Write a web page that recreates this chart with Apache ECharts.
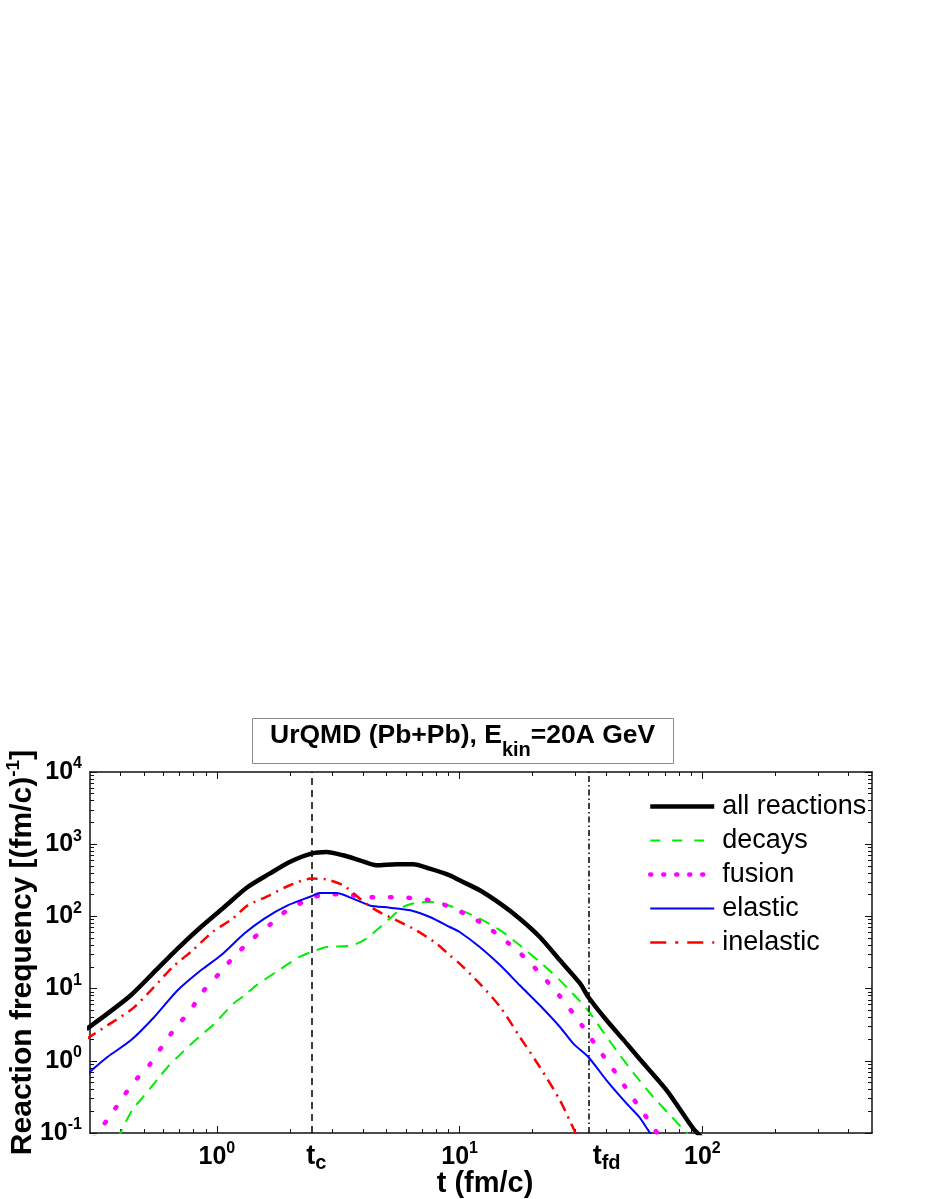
<!DOCTYPE html>
<html>
<head>
<meta charset="utf-8">
<script src="https://cdn.jsdelivr.net/npm/echarts@6.0.0/dist/echarts.min.js"></script>
<style>
html,body{margin:0;padding:0;background:#fff;}
#chart{width:926px;height:1199px;}
</style>
</head>
<body>
<div id="chart"></div>
<script>
// ---------- data ----------
const seriesNames = ['all reactions', 'decays', 'fusion', 'elastic', 'inelastic'];

const allT = [0.29, 0.354, 0.442, 0.552, 0.689, 0.859, 1.073, 1.339, 1.649, 1.994, 2.45, 2.83, 3.31, 3.88, 4.54, 5.50, 6.43, 7.53, 9.11, 10, 12.1, 14.7, 17.7, 21.4, 25.9, 31.4, 33.9, 40.3, 48.8, 55.3, 71.3, 91.8, 100];
const allV = [2.75, 4.5, 8.1, 17, 35.8, 71.3, 135, 255, 391, 567, 741, 780, 702, 598, 510, 527, 527, 459, 371, 316, 230, 150, 93, 51.9, 24.7, 11.7, 7.65, 3.64, 1.73, 1.05, 0.39, 0.115, 0.085];

const decT = [0.39, 0.402, 0.449, 0.486, 0.534, 0.579, 0.636, 0.693, 0.781, 0.873, 0.976, 1.18, 1.30, 1.454, 1.78, 2.19, 2.45, 2.83, 3.31, 3.64, 4.13, 4.54, 5.15, 5.85, 6.53, 7.54, 8.55, 10, 12.1, 14.7, 17.7, 21.4, 25.9, 29.4, 33.4, 39.1, 45.8, 53.6, 62.8, 74.8, 86.2, 90];
const decV = [0.08, 0.103, 0.211, 0.290, 0.426, 0.597, 0.867, 1.15, 1.7, 2.35, 3.27, 6.36, 8.07, 11.1, 17.6, 27.4, 32.1, 37.7, 38.5, 39.8, 49.3, 64.1, 93.2, 135, 153, 158, 150, 124, 93.2, 64.1, 39.8, 23.4, 13.0, 8.34, 5.25, 2.50, 1.19, 0.597, 0.315, 0.167, 0.1, 0.085];

const fusT = [0.31, 0.354, 0.398, 0.449, 0.526, 0.592, 0.671, 0.777, 0.873, 1.016, 1.18, 1.39, 1.66, 1.92, 2.34, 2.78, 3.31, 3.94, 4.69, 5.58, 6.64, 7.90, 9.40, 11.2, 13.3, 15.85, 18.75, 22.1, 25.7, 29.4, 33.4, 37.6, 42.7, 48.0, 54.1, 60.9, 68];
const fusV = [0.085, 0.153, 0.269, 0.483, 0.867, 1.55, 2.79, 5.0, 8.97, 15.8, 28.0, 47.7, 77.8, 118, 167, 202, 202, 190, 182, 186, 176, 163, 128, 98, 67.8, 42.8, 26.0, 14.5, 8.07, 4.5, 2.5, 1.40, 0.78, 0.44, 0.245, 0.14, 0.08];

const elaT = [0.29, 0.354, 0.442, 0.552, 0.689, 0.859, 1.039, 1.297, 1.568, 1.957, 2.45, 2.65, 3.11, 3.64, 4.26, 5.15, 6.43, 7.54, 9.11, 10, 12.1, 14.7, 17.7, 21.4, 25.9, 29.4, 33.9, 40.3, 48.8, 55.3, 60.9, 65];
const elaV = [0.64, 1.13, 1.92, 4.04, 9.47, 17.9, 28.9, 57.8, 93.3, 142, 190, 211, 211, 176, 142, 132, 119, 98, 71.3, 60.8, 37.7, 21.0, 11.1, 5.87, 2.94, 1.73, 1.13, 0.537, 0.255, 0.162, 0.1, 0.08];

const inelT = [0.29, 0.354, 0.449, 0.543, 0.657, 0.794, 0.960, 1.161, 1.339, 1.649, 1.994, 2.45, 2.83, 3.31, 3.88, 4.54, 5.50, 6.64, 8.03, 9.11, 10, 12.1, 14.7, 17.7, 21.4, 25.9, 29.9, 31];
const inelV = [2.0, 3.1, 5.28, 10.0, 19.9, 33.9, 60.8, 93.3, 142, 196, 270, 334, 324, 270, 176, 121, 88, 64, 42, 28.9, 22.2, 11.7, 5.56, 2.14, 0.82, 0.284, 0.103, 0.08];

const tC = 2.45;    // t_c marker
const tFD = 34;     // t_fd marker

const xMajorTicks = [1, 10, 100];
const xMinorTicks = [0.4, 0.5, 0.6, 0.7, 0.8, 0.9, 2, 3, 4, 5, 6, 7, 8, 9, 20, 30, 40, 50, 60, 70, 80, 90, 200, 300, 400];
const xLabelValues = [1, tC, 10, tFD, 100];
const yMajorTicks = [0.1, 1, 10, 100, 1000, 10000];
const yMinorTicks = [0.2, 0.3, 0.4, 0.5, 0.6, 0.7, 0.8, 0.9, 2, 3, 4, 5, 6, 7, 8, 9, 20, 30, 40, 50, 60, 70, 80, 90, 200, 300, 400, 500, 600, 700, 800, 900, 2000, 3000, 4000, 5000, 6000, 7000, 8000, 9000];

// ---------- chart ----------
const FONT = '"Liberation Sans", Arial, Helvetica, sans-serif';
const pairs = (t, v) => t.map((x, i) => [x, v[i]]);

const richTick = {
  b: {fontFamily: FONT, fontSize: 25, fontWeight: 'bold', color: '#000', lineHeight: 32},
  s: {fontFamily: FONT, fontSize: 16, fontWeight: 'bold', color: '#000', lineHeight: 14, verticalAlign: 'top'},
  tc: {fontFamily: FONT, fontSize: 27, fontWeight: 'bold', color: '#000', lineHeight: 32, padding: [0, 0, 0, 10]},
  tf: {fontFamily: FONT, fontSize: 27, fontWeight: 'bold', color: '#000', lineHeight: 32, padding: [0, 0, 0, 36]},
  c: {fontFamily: FONT, fontSize: 20, fontWeight: 'bold', color: '#000', lineHeight: 25, verticalAlign: 'bottom'}
};

function powLabel(v) {
  const e = Math.round(Math.log10(v));
  return '{b|10}{s|' + e + '}';
}

const XMIN = 0.3, XMAX = 500, YMIN = 0.1, YMAX = 10000;
const axisLineStyle = {color: '#111', width: 1.5};

function xAx(position, ticks, len, showLine, label) {
  return {
    type: 'log', logBase: 10, min: XMIN, max: XMAX, position: position,
    axisLine: {show: showLine, onZero: false, lineStyle: axisLineStyle},
    axisTick: {show: true, inside: true, length: len, customValues: ticks, lineStyle: {color: '#111', width: 1}},
    minorTick: {show: false},
    splitLine: {show: false},
    axisLabel: label || {show: false}
  };
}
function yAx(position, ticks, len, showLine, label) {
  return {
    type: 'log', logBase: 10, min: YMIN, max: YMAX, position: position,
    axisLine: {show: showLine, onZero: false, lineStyle: axisLineStyle},
    axisTick: {show: true, inside: true, length: len, customValues: ticks, lineStyle: {color: '#111', width: 1}},
    minorTick: {show: false},
    splitLine: {show: false},
    axisLabel: label || {show: false}
  };
}

const xMain = xAx('bottom', xMajorTicks, 7, true, {
  show: true, margin: 8, customValues: xLabelValues,
  formatter: function (v) {
    if (Math.abs(v - tC) < 1e-6) return '{tc|t}{c|c}';
    if (Math.abs(v - tFD) < 1e-6) return '{tf|t}{c|fd}';
    return powLabel(v);
  },
  rich: richTick
});
xMain.name = 't (fm/c)';
xMain.nameLocation = 'middle';
xMain.nameGap = 34;
xMain.nameMoveOverlap = false;
xMain.nameTextStyle = {fontFamily: FONT, fontSize: 29, fontWeight: 'bold', color: '#000', lineHeight: 34, padding: [0, 0, 0, 8]};

const yMain = yAx('left', yMajorTicks, 7, true, {
  show: true, margin: 8, customValues: yMajorTicks,
  formatter: powLabel, rich: richTick
});
yMain.name = '{a|Reaction frequency [(fm/c)}{s|-1}{a|]}';
yMain.nameLocation = 'middle';
yMain.nameGap = 48;
yMain.nameMoveOverlap = false;
yMain.nameTextStyle = {
  rich: {
    a: {fontFamily: FONT, fontSize: 30, fontWeight: 'bold', color: '#000', lineHeight: 38},
    s: {fontFamily: FONT, fontSize: 19, fontWeight: 'bold', color: '#000', lineHeight: 18, verticalAlign: 'top'}
  }
};

const option = {
  animation: false,
  backgroundColor: '#ffffff',
  title: {
    text: '{a|UrQMD (Pb+Pb), E}{s|kin}{a|=20A GeV}',
    left: 252, top: 718,
    padding: [4, 18, 4, 18],
    borderColor: '#8a8a8a', borderWidth: 1, backgroundColor: '#fff',
    textStyle: {
      rich: {
        a: {fontFamily: FONT, fontSize: 26.5, fontWeight: 'bold', color: '#000', lineHeight: 30, verticalAlign: 'top'},
        s: {fontFamily: FONT, fontSize: 20, fontWeight: 'bold', color: '#000', lineHeight: 20, verticalAlign: 'top', padding: [18, 0, 0, 0]}
      }
    }
  },
  legend: {
    orient: 'vertical', left: 643, top: 788,
    itemWidth: 64, itemHeight: 20, itemGap: 7,
    selectedMode: false,
    itemStyle: {opacity: 0},
    textStyle: {fontFamily: FONT, fontSize: 27, color: '#000', lineHeight: 27, padding: [0, 0, 0, 3]},
    data: [
      {name: seriesNames[0], lineStyle: {width: 4.5}, itemStyle: {opacity: 0}},
      {name: seriesNames[1], lineStyle: {width: 2, type: [10, 12]}, itemStyle: {opacity: 0}},
      {name: seriesNames[2], lineStyle: {width: 4.5, type: [1, 12], cap: 'round'}, itemStyle: {opacity: 0}},
      {name: seriesNames[3], lineStyle: {width: 2}, itemStyle: {opacity: 0}},
      {name: seriesNames[4], lineStyle: {width: 2.5, type: [16, 9, 3, 9]}, itemStyle: {opacity: 0}}
    ]
  },
  grid: {left: 90, top: 772, width: 782, height: 361, containLabel: false, outerBoundsMode: 'none'},
  xAxis: [
    xMain,
    xAx('bottom', xMinorTicks, 4, false),
    xAx('top', xMajorTicks, 7, true),
    xAx('top', xMinorTicks, 4, false)
  ],
  yAxis: [
    yMain,
    yAx('left', yMinorTicks, 4, false),
    yAx('right', yMajorTicks, 7, true),
    yAx('right', yMinorTicks, 4, false)
  ],
  series: [
    {
      name: seriesNames[0], type: 'line', data: pairs(allT, allV),
      symbol: 'none', showSymbol: false, smooth: 0.25, clip: true, z: 6,
      lineStyle: {color: '#000', width: 4.5},
      itemStyle: {color: '#000'},
      markLine: {
        silent: true, symbol: ['none', 'none'], label: {show: false}, animation: false,
        data: [
          {xAxis: tC, lineStyle: {color: '#000', width: 1.5, type: [7, 5]}},
          {xAxis: tFD, lineStyle: {color: '#000', width: 1.5, type: [6, 3, 1.5, 3]}}
        ]
      }
    },
    {
      name: seriesNames[1], type: 'line', data: pairs(decT, decV),
      symbol: 'none', showSymbol: false, smooth: 0.25, clip: true, z: 3,
      lineStyle: {color: '#00ee00', width: 2, type: [12, 8]},
      itemStyle: {color: '#00ee00'}
    },
    {
      name: seriesNames[2], type: 'line', data: pairs(fusT, fusV),
      symbol: 'none', showSymbol: false, smooth: 0.25, clip: true, z: 4,
      lineStyle: {color: '#ff00ff', width: 4.5, type: [1.5, 17], cap: 'round'},
      itemStyle: {color: '#ff00ff'}
    },
    {
      name: seriesNames[3], type: 'line', data: pairs(elaT, elaV),
      symbol: 'none', showSymbol: false, smooth: 0.25, clip: true, z: 5,
      lineStyle: {color: '#0000ff', width: 2},
      itemStyle: {color: '#0000ff'}
    },
    {
      name: seriesNames[4], type: 'line', data: pairs(inelT, inelV),
      symbol: 'none', showSymbol: false, smooth: 0.25, clip: true, z: 5,
      lineStyle: {color: '#ff0000', width: 2.5, type: [11, 6, 2, 6]},
      itemStyle: {color: '#ff0000'}
    }
  ]
};

const chart = echarts.init(document.getElementById('chart'), null, {renderer: 'canvas'});
chart.setOption(option);
</script>
</body>
</html>
